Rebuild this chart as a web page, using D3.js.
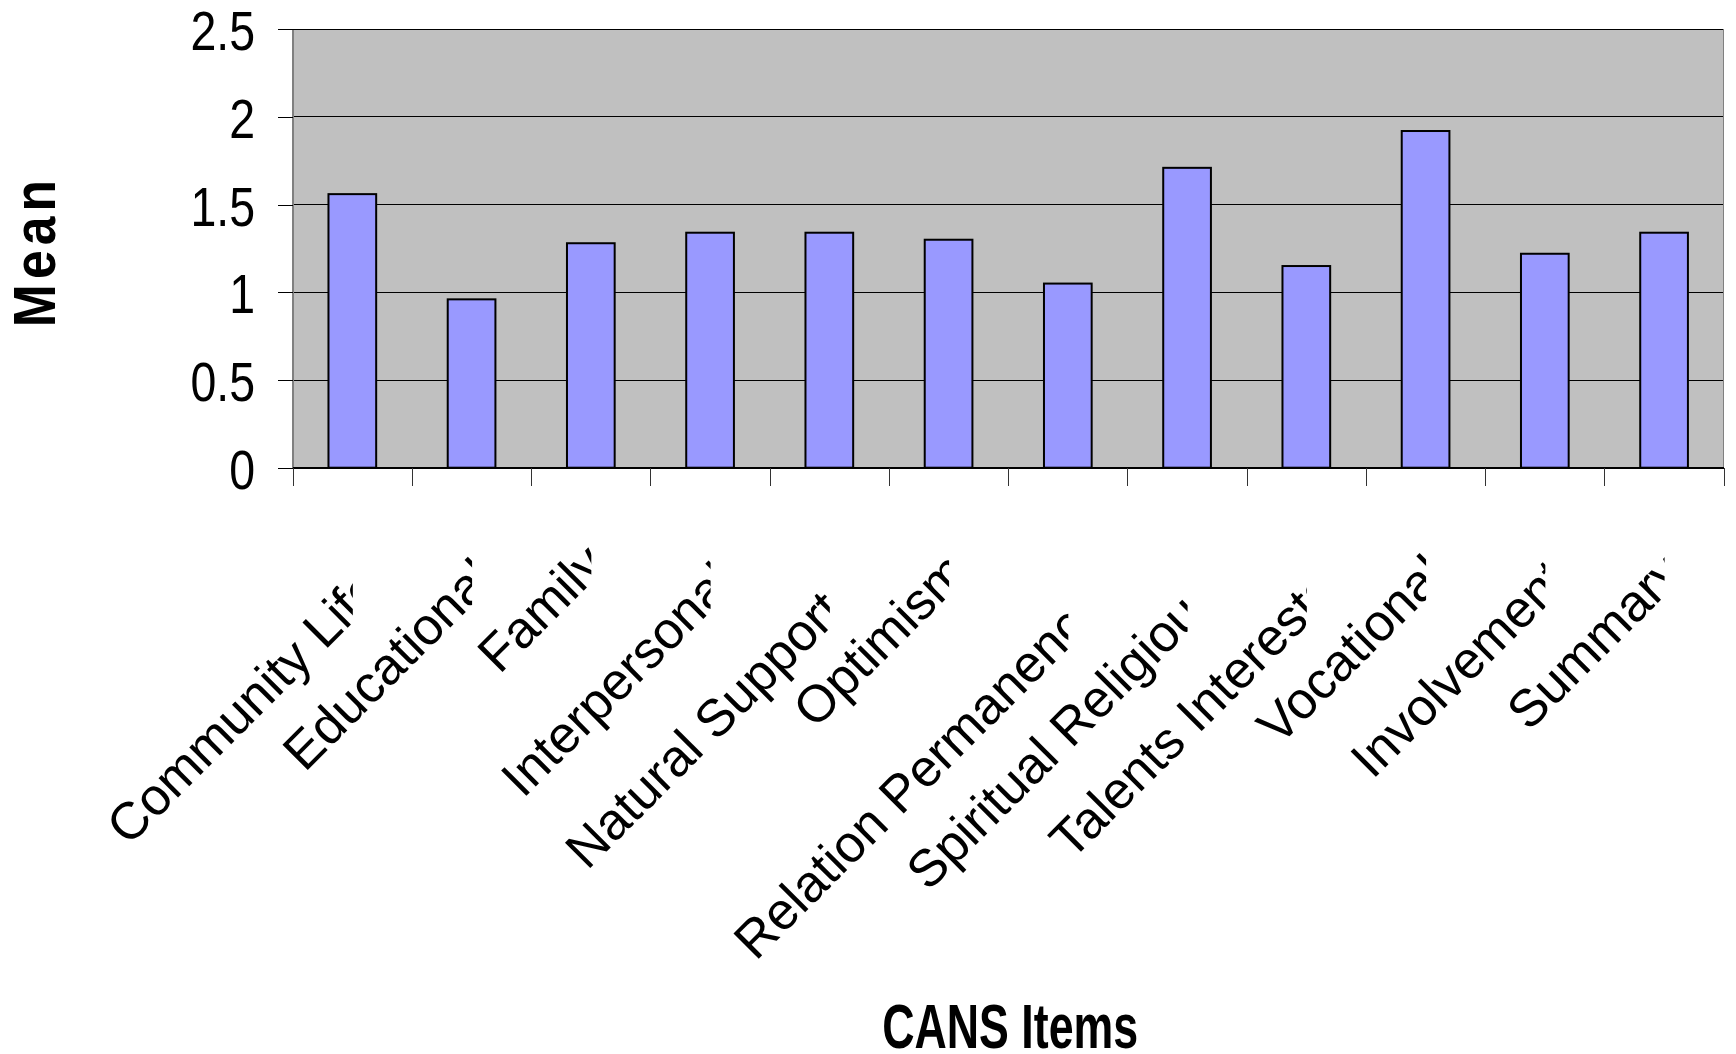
<!DOCTYPE html>
<html>
<head>
<meta charset="utf-8">
<script src="https://cdn.jsdelivr.net/npm/d3@7"></script>
<style>
  body { margin: 0; background: #fff; }
  svg { display: block; }
</style>
</head>
<body>
<svg id="chart" width="1736" height="1054"></svg>
<script>
// CANS item means
const categories = [
  "Community Life", "Educational", "Family", "Interpersonal",
  "Natural Supports", "Optimism", "Relation Permanence", "Spiritual Religious",
  "Talents Interests", "Vocational", "Involvement", "Summary"
];
const means = [1.56, 0.96, 1.28, 1.34, 1.34, 1.30, 1.05, 1.71, 1.15, 1.92, 1.22, 1.34];
const yTicks = [0, 0.5, 1, 1.5, 2, 2.5];
const yTickLabels = ["0", "0.5", "1", "1.5", "2", "2.5"];
const yTitle = "Mean";
const xTitle = "CANS Items";

const W = 1736, H = 1054;
const plot = { left: 292.7, right: 1723.7, top: 29.3, bottom: 467.7 };
const FONT = "'Liberation Sans', Arial, Helvetica, sans-serif";

const svg = d3.select("#chart");
svg.append("rect").attr("width", W).attr("height", H).attr("fill", "#fff");

// scales
const slot = d3.scaleBand().domain(categories).range([plot.left, plot.right]).padding(0);
const x = d3.scaleBand().domain(categories).range([plot.left, plot.right])
  .paddingInner(0.6).paddingOuter(0.3);
const edge = d3.scaleLinear().domain([0, categories.length]).range([plot.left, plot.right]);
const y = d3.scaleLinear().domain([0, 2.5]).range([plot.bottom, plot.top]);

// plot area
svg.append("rect")
  .attr("x", plot.left).attr("y", plot.top)
  .attr("width", plot.right - plot.left).attr("height", plot.bottom - plot.top)
  .attr("fill", "#c0c0c0");

// horizontal gridlines
svg.append("g").attr("shape-rendering", "crispEdges")
  .selectAll("line").data(yTicks.filter(d => d > 0)).join("line")
  .attr("x1", plot.left).attr("x2", plot.right)
  .attr("y1", d => y(d)).attr("y2", d => y(d))
  .attr("stroke", "#000").attr("stroke-width", 1);

// right border of the plot area
svg.append("line").attr("shape-rendering", "crispEdges")
  .attr("x1", plot.right).attr("x2", plot.right)
  .attr("y1", plot.top).attr("y2", plot.bottom)
  .attr("stroke", "#808080").attr("stroke-width", 1.5);

// bars
svg.append("g").selectAll("rect").data(means).join("rect")
  .attr("x", (d, i) => x(categories[i]))
  .attr("width", x.bandwidth())
  .attr("y", d => y(d))
  .attr("height", d => y(0) - y(d))
  .attr("fill", "#9999ff")
  .attr("stroke", "#000")
  .attr("stroke-width", 2);

// y axis
const yAxis = svg.append("g")
  .attr("transform", `translate(${plot.left},0)`)
  .attr("shape-rendering", "crispEdges")
  .call(d3.axisLeft(y).tickValues(yTicks)
    .tickFormat((d, i) => yTickLabels[i])
    .tickSize(15).tickSizeOuter(0).tickPadding(0));
yAxis.attr("font-family", FONT).attr("font-size", 56);
yAxis.select(".domain").attr("stroke", "#808080").attr("stroke-width", 1.5);
yAxis.selectAll(".tick line").attr("stroke", "#000");
yAxis.selectAll(".tick text")
  .attr("x", null).attr("dy", null)
  .attr("fill", "#000")
  .attr("transform", `translate(${255 - plot.left},20.5) scale(0.83,1)`);

// x axis: ticks at category boundaries
const xAxis = svg.append("g")
  .attr("transform", `translate(0,${plot.bottom})`)
  .attr("shape-rendering", "crispEdges")
  .call(d3.axisBottom(edge).tickValues(d3.range(categories.length + 1))
    .tickFormat("").tickSize(18).tickSizeOuter(0));
xAxis.select(".domain").attr("stroke", "#000").attr("stroke-width", 1.5);
xAxis.selectAll(".tick line").attr("stroke", "#333");

// rotated category labels at 45 degrees; each is cut off at the
// vertical line through its category centre
const labelLayer = svg.append("g").attr("font-family", FONT).attr("font-size", 52).attr("fill", "#000");
const defs = svg.append("defs");
categories.forEach((name, i) => {
  const c = slot(name) + slot.bandwidth() / 2 + 0.5;
  const id = "label-clip-" + i;
  defs.append("clipPath").attr("id", id)
    .append("rect").attr("x", c - 800).attr("y", plot.bottom + 20)
    .attr("width", 800).attr("height", H);
  const g = labelLayer.append("g").attr("clip-path", `url(#${id})`);
  const t = g.append("text").attr("text-anchor", "end").text(name);
  const L = t.node().getComputedTextLength();
  const over = 0.1 * L + 8;                          // run-past beyond the cut line
  const py = plot.bottom + 88.1 + 0.211 * (L - over); // baseline height at the cut line
  const ex = c + over / Math.SQRT2, ey = py - over / Math.SQRT2;
  t.attr("transform", `translate(${ex},${ey}) rotate(-45)`);
});

// axis titles
svg.append("text")
  .attr("transform", "translate(55,251) rotate(-90) scale(0.86,1)")
  .attr("text-anchor", "middle")
  .attr("letter-spacing", 6)
  .attr("font-family", FONT).attr("font-weight", "bold").attr("font-size", 60)
  .attr("fill", "#000")
  .text(yTitle);

svg.append("text")
  .attr("transform", `translate(${(plot.left + plot.right) / 2 + 2},1048) scale(0.71,1)`)
  .attr("text-anchor", "middle")
  .attr("font-family", FONT).attr("font-weight", "bold").attr("font-size", 63)
  .attr("fill", "#000")
  .text(xTitle);
</script>
</body>
</html>
